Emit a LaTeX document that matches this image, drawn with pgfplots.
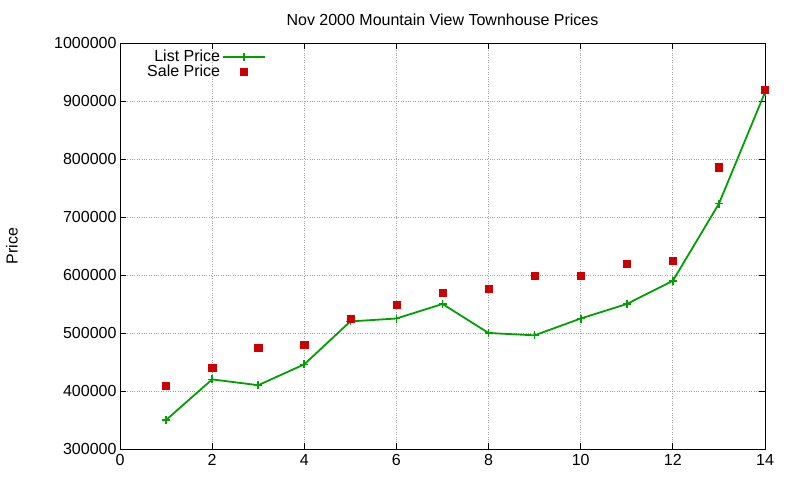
\documentclass[border=0pt]{standalone}
\usepackage{fontspec}
\setmainfont{Liberation Sans}
\usepackage{pgfplots}
\pgfplotsset{compat=1.18}
\definecolor{listgreen}{RGB}{0,160,0}
\definecolor{salered}{RGB}{204,0,0}
\definecolor{gridgray}{RGB}{160,160,160}
\begin{document}
\begin{tikzpicture}[x=1pt,y=1pt]
\useasboundingbox (-120,-31) rectangle (680,449);
\begin{axis}[
  at={(0,0)}, anchor=south west,
  scale only axis, width=645pt, height=406pt,
  xmin=0, xmax=14, ymin=300000, ymax=1000000,
  xtick={0,2,...,14},
  ytick={300000,400000,...,1000000},
  scaled y ticks=false,
  /pgf/number format/fixed,
  /pgf/number format/1000 sep={},
  /pgf/number format/assume math mode=true,
  tick align=inside,
  major tick length=6pt,
  tick style={black, line width=0.8pt},
  axis line style={black, line width=0.8pt},
  grid=major,
  major grid style={gridgray, dotted, line width=0.8pt},
  font=\fontsize{16}{18}\selectfont,
  ticklabel style={font=\fontsize{16}{18}\selectfont},
  xticklabel style={yshift=-2pt},
  title={Nov 2000 Mountain View Townhouse Prices},
  title style={at={(axis description cs:0.5,1)}, anchor=center, yshift=17pt},
  ylabel={Price},
  ylabel style={at={(axis description cs:0,0.5)}, anchor=center, yshift=108pt},
  legend plot pos=right,
  legend cell align=right,
  legend image code/.code={\draw[mark repeat=2,mark phase=2,#1] plot coordinates {(0pt,0pt)(21pt,0pt)(42pt,0pt)};},
  legend style={at={(axis description cs:0,1)}, anchor=north west, xshift=22pt, yshift=-3pt, draw=none, fill=none, row sep=-2.5pt, font=\fontsize{16}{18}\selectfont},
]
\addplot[listgreen, line width=1.8pt, mark=+, mark size=4pt, mark options={line width=1.6pt}] coordinates {
(1,350000) (2,420000) (3,410000) (4,446000) (5,520000) (6,525000) (7,550000)
(8,500000) (9,496000) (10,525000) (11,550000) (12,590000) (13,723000) (14,915000)};
\addlegendentry{List Price}
\addplot[only marks, mark=square*, mark size=3.6pt, color=salered] coordinates {
(1,409000) (2,440000) (3,475000) (4,480000) (5,525000) (6,549000) (7,570000)
(8,577000) (9,599000) (10,599000) (11,620000) (12,625000) (13,786000) (14,919000)};
\addlegendentry{Sale Price}
\end{axis}
\end{tikzpicture}
\end{document}
